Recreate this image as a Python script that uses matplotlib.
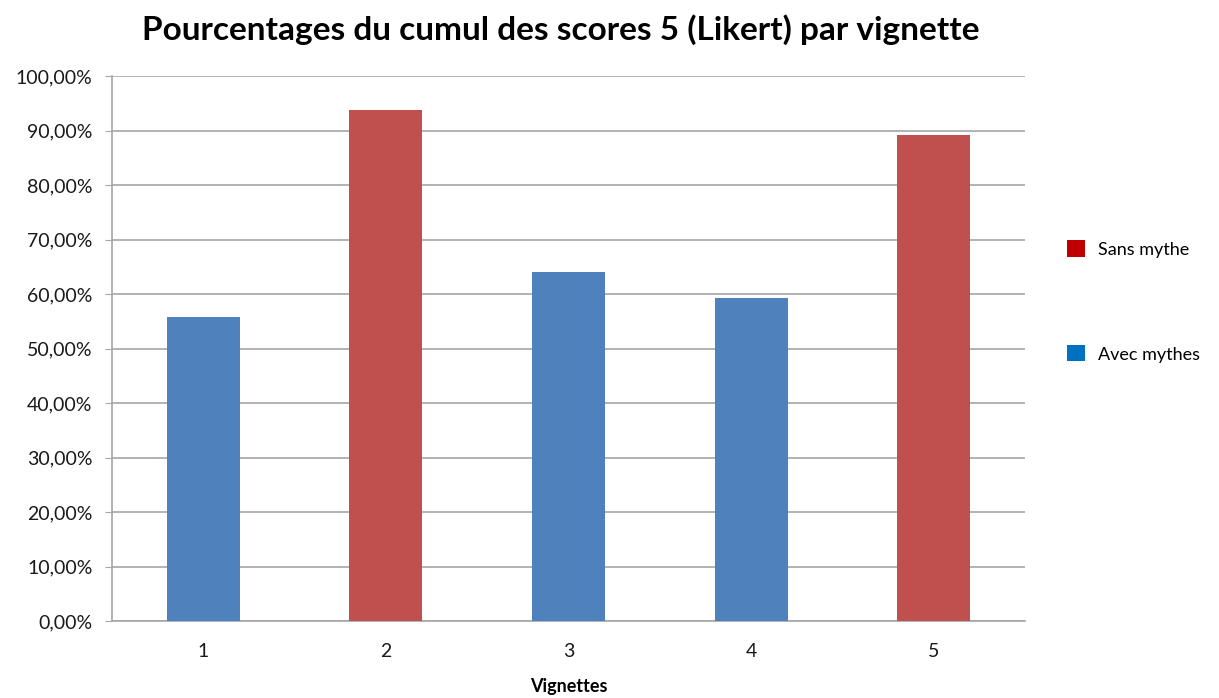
import matplotlib
matplotlib.use("Agg")
from matplotlib import pyplot as plt
from matplotlib.patches import Patch
from matplotlib.ticker import FuncFormatter

plt.rcParams['font.family'] = ['Lato', 'DejaVu Sans']

# Data
vignettes = ["1", "2", "3", "4", "5"]
values = [55.8, 93.8, 64.0, 59.3, 89.2]
groups = ["Avec mythes", "Sans mythe", "Avec mythes", "Avec mythes", "Sans mythe"]

bar_colors = {"Avec mythes": "#4F81BD", "Sans mythe": "#C0504D"}
legend_colors = {"Sans mythe": "#C00000", "Avec mythes": "#0070C0"}

fig = plt.figure(figsize=(12.19, 6.98), dpi=100)
ax = fig.add_axes([0.0919, 0.1103, 0.749, 0.7808])

x = range(1, len(vignettes) + 1)
ax.bar(x, values, width=0.4, color=[bar_colors[g] for g in groups], zorder=3)

ax.set_xlim(0.5, 5.5)
ax.set_ylim(0, 100)
ax.set_yticks(range(0, 101, 10))
ax.yaxis.set_major_formatter(FuncFormatter(lambda v, p: f"{v:.2f}%".replace(".", ",")))
ax.set_xticks(list(x))
ax.set_xticklabels(vignettes)

ax.grid(axis='y', color='#A6A6A6', linewidth=1.2, zorder=0)
for s in ['top', 'right']:
    ax.spines[s].set_visible(False)
ax.spines['left'].set_color('#A6A6A6')
ax.spines['bottom'].set_color('#A6A6A6')
ax.spines['left'].set_linewidth(1.2)
ax.spines['bottom'].set_linewidth(1.2)
ax.tick_params(axis='y', length=5, color='#A6A6A6', labelsize=14, labelcolor='#1a1a1a', pad=9)
ax.tick_params(axis='x', length=0, labelsize=14, labelcolor='#1a1a1a', pad=16)

ax.set_xlabel("Vignettes", fontsize=13, fontweight='bold', labelpad=13)
fig.suptitle("Pourcentages du cumul des scores 5 (Likert) par vignette",
             fontsize=24, fontweight='bold', x=0.46, y=0.98)

handles = [Patch(facecolor=legend_colors[k], label=k) for k in ["Sans mythe", "Avec mythes"]]
fig.legend(handles=handles, loc='center left', bbox_to_anchor=(0.862, 0.568),
           frameon=False, fontsize=13, labelspacing=4.85, handlelength=1.0,
           handleheight=1.0, handletextpad=0.7)

fig.savefig("out.png", dpi=100)
